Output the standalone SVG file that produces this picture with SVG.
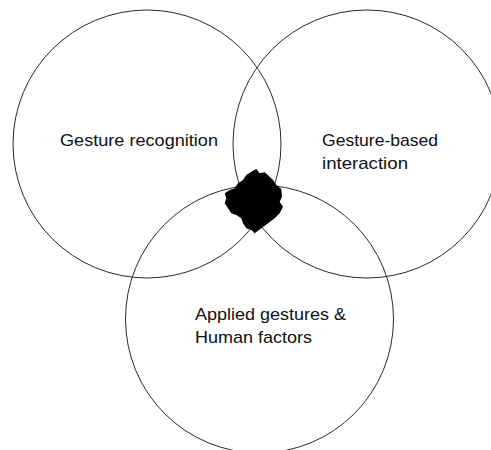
<svg xmlns="http://www.w3.org/2000/svg" width="491" height="450" viewBox="0 0 491 450">
<style>
.c{fill:none;stroke:#2a2a2a;stroke-width:1}
.t{font-family:"Liberation Sans",Arial,sans-serif;font-size:17px;fill:#111}
</style>
<rect width="491" height="450" fill="#fff"/>
<g id="node-recognition">
<circle class="c" cx="147" cy="144" r="134"/>
<text class="t" x="60" y="146" textLength="158" lengthAdjust="spacingAndGlyphs">Gesture recognition</text>
</g>
<g id="node-interaction">
<circle class="c" cx="367" cy="144" r="134"/>
<text class="t" x="322" y="146" textLength="116" lengthAdjust="spacingAndGlyphs">Gesture-based</text>
<text class="t" x="322" y="168.5" textLength="86" lengthAdjust="spacingAndGlyphs">interaction</text>
</g>
<g id="node-applied">
<circle class="c" cx="259.5" cy="319" r="134"/>
<text class="t" x="195" y="320" textLength="151" lengthAdjust="spacingAndGlyphs">Applied gestures &amp;</text>
<text class="t" x="195" y="343" textLength="117" lengthAdjust="spacingAndGlyphs">Human factors</text>
</g>
<g id="node-center">
<path fill="#000" d="M251.3,171.7 L256.3,169 L259.7,173.3 L264.7,172.3 L269.7,176.7 L273,180 L276.3,185 L281.3,189 L282,196.7 L279.7,201.7 L283,206.7 L279.7,213.3 L274.7,218.3 L268,223.3 L261.3,228.3 L254.7,233.3 L251.3,230 L246.3,228.3 L243,223.3 L241.3,218.3 L236.3,215 L231.3,213.3 L228,208.3 L224.7,203.3 L226.3,198.3 L224.7,193.3 L229.7,190 L234.7,188.3 L238,183.3 L243,180 L246.3,175 Z"/>
</g>
<g id="connectors"></g>
</svg>
